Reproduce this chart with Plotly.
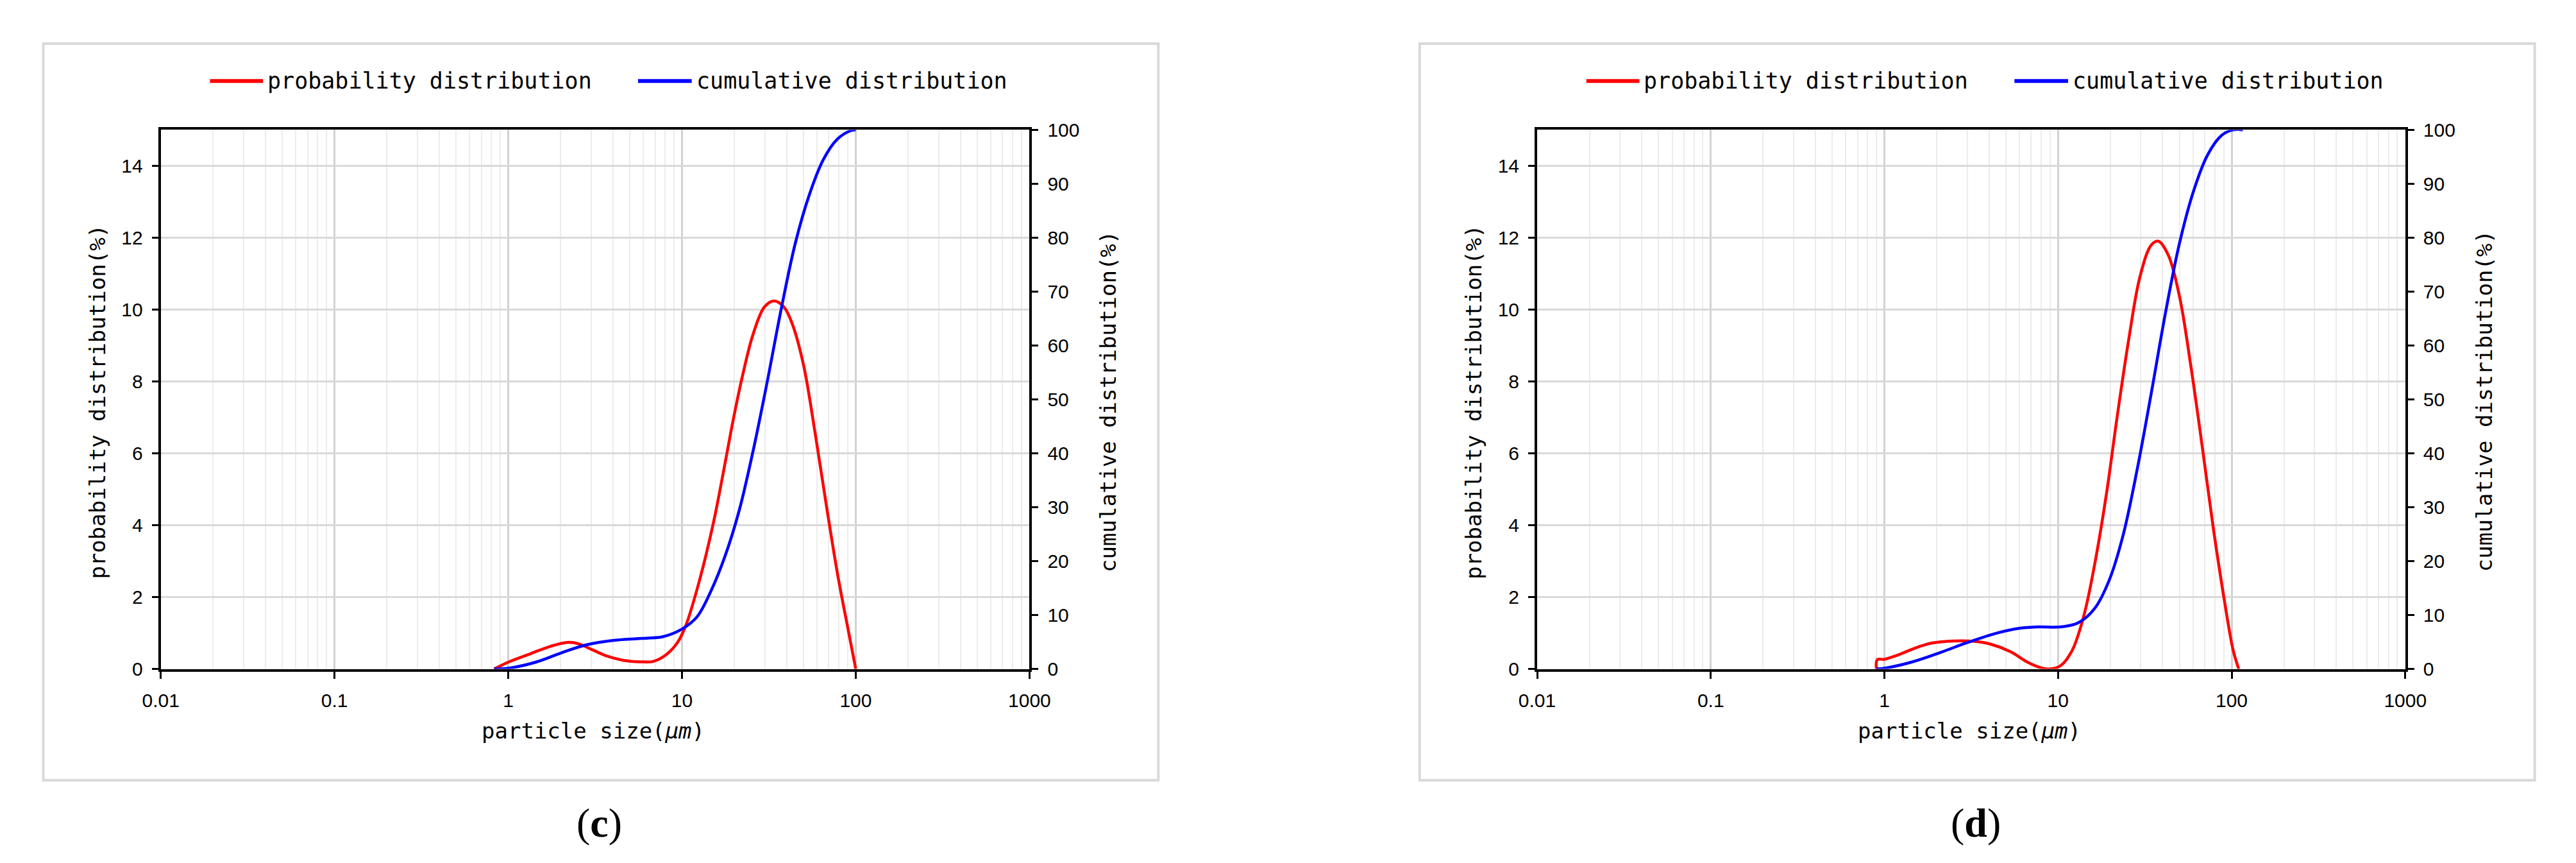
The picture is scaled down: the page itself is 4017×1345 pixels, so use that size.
import plotly.graph_objects as go

W, H = 4017, 1345

# ---------------- data ----------------
# panel (c)
size_c_prob = [0.83, 1.0, 1.35, 1.75, 2.19, 2.54, 3.06, 3.69, 4.61, 5.77, 6.82, 8.07, 9.37,
               10.5, 12.6, 15.2, 17.7, 19.8, 22.5, 25.6, 29.8, 33.9, 38.6, 43.2, 50.2, 58.2,
               67.6, 78.5, 91.1, 100.0]
prob_c = [0.0, 0.19, 0.43, 0.63, 0.74, 0.70, 0.53, 0.36, 0.24, 0.20, 0.21, 0.39, 0.72,
          1.2, 2.46, 4.09, 5.73, 6.98, 8.24, 9.30, 10.07, 10.24, 10.07, 9.59, 8.43, 6.60,
          4.58, 2.65, 1.01, 0.0]
size_c_cum = [0.83, 1.0, 1.45, 2.11, 2.84, 3.97, 5.77, 7.78, 10.0, 12.2, 14.7, 17.7, 21.3,
              25.6, 30.9, 37.2, 44.9, 54.1, 65.1, 78.5, 94.5, 100.0]
cum_c = [0.0, 0.13, 1.29, 3.22, 4.51, 5.29, 5.67, 6.0, 7.41, 9.67, 14.5, 20.95, 29.3,
         40.3, 53.2, 66.7, 79.0, 88.0, 94.5, 98.3, 99.9, 100.0]

# panel (d)
size_d_prob = [0.90, 0.91, 1.0, 1.20, 1.50, 1.87, 2.52, 3.28, 4.10, 5.33, 6.67, 8.03, 8.99,
               10.4, 12.1, 14.1, 16.3, 19.0, 22.0, 25.6, 29.7, 34.5, 37.9, 43.2, 50.1, 58.2,
               67.6, 78.5, 91.0, 101.9, 109.9]
prob_d = [0.0, 0.26, 0.27, 0.39, 0.58, 0.72, 0.78, 0.77, 0.69, 0.48, 0.19, 0.03, 0.0,
          0.10, 0.53, 1.49, 2.94, 4.87, 7.08, 9.20, 10.93, 11.80, 11.90, 11.51, 10.36, 8.43,
          6.21, 3.90, 1.88, 0.53, 0.0]
size_d_cum = [0.90, 1.0, 1.44, 2.09, 3.04, 4.42, 5.96, 7.74, 10.4, 13.1, 16.3, 19.7, 23.7,
              28.6, 34.5, 41.6, 50.1, 60.4, 72.8, 87.7, 101.9, 116.0]
cum_d = [0.0, 0.13, 1.29, 3.03, 4.96, 6.64, 7.54, 7.80, 7.80, 8.58, 11.28, 16.44, 24.8,
         37.1, 51.3, 66.1, 79.0, 88.7, 95.4, 99.0, 100.0, 100.0]

x_tickvals = [0.01, 0.1, 1, 10, 100, 1000]
x_ticktext = ["0.01", "0.1", "1", "10", "100", "1000"]
y_left_ticks = [0, 2, 4, 6, 8, 10, 12, 14]
y_right_ticks = [0, 10, 20, 30, 40, 50, 60, 70, 80, 90, 100]
series_names = ["probability distribution", "cumulative distribution"]
y_left_title = "probability distribution(%)"
y_right_title = "cumulative distribution(%)"
x_title = "particle size(<i>μm</i>)"
captions = ["(<b>c</b>)", "(<b>d</b>)"]

# ---------------- layout helpers ----------------
RED, BLUE = "#ff0000", "#0000ff"
MONO = "DejaVu Sans Mono"
SANS = "Liberation Sans, Arial"
minor_vals = [m * 10 ** e for e in range(-2, 3) for m in range(2, 10)]

def px(x):
    return x / W

def py(y):
    return 1 - y / H

ydom = [py(1044), py(182)]
panels = [
    dict(x0=217, x1=1593, xa="xaxis", ya="yaxis", ya2="yaxis2", xr="x", yr="y", yr2="y2",
         sp=size_c_prob, p=prob_c, sc=size_c_cum, c=cum_c, off=0),
    dict(x0=2397, x1=3772, xa="xaxis2", ya="yaxis3", ya2="yaxis4", xr="x2", yr="y3", yr2="y4",
         sp=size_d_prob, p=prob_d, sc=size_d_cum, c=cum_d, off=2180),
]

fig = go.Figure()
layout = dict(width=W, height=H, margin=dict(l=0, r=0, t=0, b=0),
              paper_bgcolor="white", plot_bgcolor="white", showlegend=False)
shapes, annotations = [], []

for i, pn in enumerate(panels):
    fig.add_trace(go.Scatter(x=pn["sp"], y=pn["p"], mode="lines", name=series_names[0],
                             line=dict(color=RED, width=4.5, shape="spline", smoothing=1.0),
                             xaxis=pn["xr"], yaxis=pn["yr"]))
    fig.add_trace(go.Scatter(x=pn["sc"], y=pn["c"], mode="lines", name=series_names[1],
                             line=dict(color=BLUE, width=4.5, shape="spline", smoothing=1.0),
                             xaxis=pn["xr"], yaxis=pn["yr2"]))

    layout[pn["xa"]] = dict(
        type="log", range=[-2, 3], domain=[px(pn["x0"]), px(pn["x1"])], anchor=pn["yr"],
        tickmode="array", tickvals=x_tickvals, ticktext=x_ticktext,
        showgrid=True, gridcolor="#d2d2d2", gridwidth=2.5,
        minor=dict(tickmode="array", tickvals=minor_vals, showgrid=True,
                   gridcolor="#ececec", gridwidth=2, ticks=""),
        showline=True, linecolor="black", linewidth=4, mirror=True,
        ticks="outside", ticklen=11, tickwidth=3, tickcolor="black",
        tickfont=dict(family=SANS, size=30, color="black"), ticklabelstandoff=8,
        zeroline=False, fixedrange=True)
    layout[pn["ya"]] = dict(
        range=[0, 15], domain=ydom, anchor=pn["xr"],
        tickmode="array", tickvals=y_left_ticks,
        showgrid=True, gridcolor="#d9d9d9", gridwidth=3,
        showline=True, linecolor="black", linewidth=4,
        ticks="outside", ticklen=10, tickwidth=3, tickcolor="black",
        tickfont=dict(family=SANS, size=30, color="black"), ticklabelstandoff=8,
        zeroline=False, fixedrange=True)
    layout[pn["ya2"]] = dict(
        range=[0, 100], overlaying=pn["yr"], side="right", anchor=pn["xr"],
        tickmode="array", tickvals=y_right_ticks, showgrid=False,
        showline=True, linecolor="black", linewidth=4,
        ticks="outside", ticklen=10, tickwidth=3, tickcolor="black",
        tickfont=dict(family=SANS, size=30, color="black"), ticklabelstandoff=8,
        zeroline=False, fixedrange=True)

    off = pn["off"]
    # outer frame
    shapes.append(dict(type="rect", xref="paper", yref="paper",
                       x0=px(31 + off), x1=px(1797 + off), y0=py(1222), y1=py(44),
                       line=dict(color="#d9d9d9", width=4), layer="below"))
    # legend
    for (lx0, lx1, tx, col, name) in [(295, 379, 384, RED, series_names[0]),
                                       (973, 1058, 1063, BLUE, series_names[1])]:
        shapes.append(dict(type="line", xref="paper", yref="paper",
                           x0=px(lx0 + off), x1=px(lx1 + off), y0=py(104), y1=py(104),
                           line=dict(color=col, width=6)))
        annotations.append(dict(text=name, xref="paper", yref="paper", x=px(tx + off), y=py(104),
                                xanchor="left", yanchor="middle", showarrow=False,
                                font=dict(family=MONO, size=35, color="black")))
    # axis titles
    annotations.append(dict(text=y_left_title, xref="paper", yref="paper", x=px(117 + off), y=py(617),
                            xanchor="center", yanchor="middle", textangle=-90, showarrow=False,
                            font=dict(family=MONO, size=34, color="black")))
    annotations.append(dict(text=y_right_title, xref="paper", yref="paper", x=px(1718 + off), y=py(616),
                            xanchor="center", yanchor="middle", textangle=-90, showarrow=False,
                            font=dict(family=MONO, size=34, color="black")))
    annotations.append(dict(text=x_title, xref="paper", yref="paper", x=px(902 + off), y=py(1143),
                            xanchor="center", yanchor="middle", showarrow=False,
                            font=dict(family=MONO, size=34, color="black")))
    # caption
    annotations.append(dict(text=captions[i], xref="paper", yref="paper", x=px(912 + off), y=py(1290),
                            xanchor="center", yanchor="middle", showarrow=False,
                            font=dict(family="Liberation Serif, Times New Roman", size=64, color="black")))

layout["shapes"] = shapes
layout["annotations"] = annotations
fig.update_layout(**layout)
fig.write_html("out.html")
